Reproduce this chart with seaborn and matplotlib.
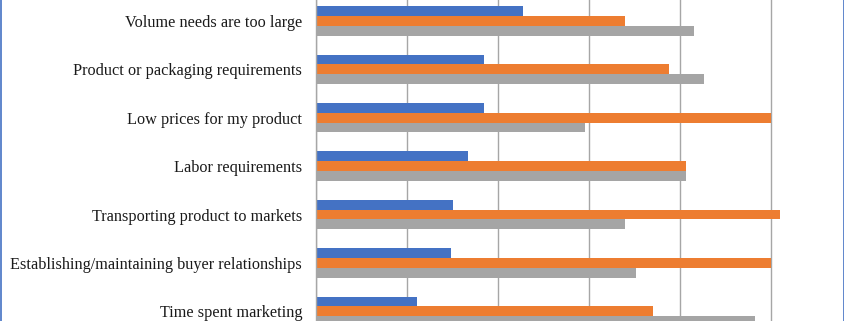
import matplotlib
matplotlib.use("Agg")
import matplotlib.pyplot as plt
from matplotlib.lines import Line2D
import seaborn as sns
import pandas as pd
import numpy as np

categories = [
    "Volume needs are too large",
    "Product or packaging requirements",
    "Low prices for my product",
    "Labor requirements",
    "Transporting product to markets",
    "Establishing/maintaining buyer relationships",
    "Time spent marketing",
]
series_names = ["Series 1", "Series 2", "Series 3"]
series1 = [22.7, 18.5, 18.5, 16.7, 15.1, 14.8, 11.1]
series2 = [34.0, 38.8, 50.0, 40.7, 51.0, 50.0, 37.0]
series3 = [41.5, 42.6, 29.6, 40.7, 34.0, 35.2, 48.2]
colors = ["#4472C4", "#ED7D31", "#A5A5A5"]
x_ticks = [0, 10, 20, 30, 40, 50, 60]

rows = []
for name, vals in zip(series_names, [series1, series2, series3]):
    for c, v in zip(categories, vals):
        rows.append({"category": c, "series": name, "value": v})
df = pd.DataFrame(rows)

sns.set_style("white")
plt.rcParams["font.family"] = ["Liberation Serif", "DejaVu Serif"]

W, H = 845, 321
fig = plt.figure(figsize=(W / 100, H / 100), dpi=100)
ax_left = 316 / W
ax_width = (6 * 91) / W
ax_top_px = -3.25
ax_bot_px = 335.5
ax = fig.add_axes([ax_left, (H - ax_bot_px) / H, ax_width, (ax_bot_px - ax_top_px) / H])

sns.barplot(data=df, y="category", x="value", hue="series", order=categories,
            hue_order=series_names, palette=colors, orient="h", width=0.61,
            saturation=1, legend=False, ax=ax, linewidth=0)

ax.set_xlim(0, 60)
ax.set_ylim(6.5, -0.5)
ax.set_xticks(x_ticks)
ax.set_xticklabels([])
ax.set_xlabel("")
ax.set_ylabel("")
ax.set_axisbelow(True)
ax.grid(axis="x", color="#A6A6A6", linewidth=1.0)
ax.grid(axis="y", visible=False)
for s in ["top", "right", "bottom"]:
    ax.spines[s].set_visible(False)
ax.spines["left"].set_color("#A6A6A6")
ax.spines["left"].set_linewidth(1.0)

ax.tick_params(axis="y", which="major", length=0, pad=10, labelsize=11.7, labelcolor="#1a1a1a")
ax.set_yticks(np.arange(-0.5, 7.0, 1.0), minor=True)
ax.tick_params(axis="y", which="minor", length=4, color="#A6A6A6", width=1)
ax.tick_params(axis="x", length=0)

fig.add_artist(Line2D([0.6 / W, 0.6 / W], [0, 1], transform=fig.transFigure, color="#4472C4", lw=1.2))
fig.add_artist(Line2D([(W - 1.0) / W, (W - 1.0) / W], [0, 1], transform=fig.transFigure, color="#4472C4", lw=1.2))

fig.savefig("out.png", dpi=100)
